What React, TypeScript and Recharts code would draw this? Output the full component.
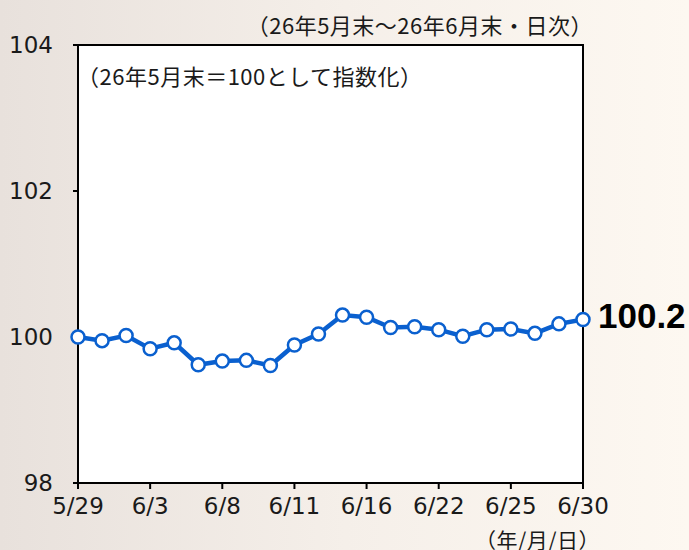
import React from 'react';
import { LineChart, Line, XAxis, YAxis, ReferenceArea } from 'recharts';

// trading days, 26/5/29 - 26/6/30
const dates = [
  '5/29', '6/1', '6/2', '6/3', '6/4', '6/5', '6/8', '6/9', '6/10', '6/11', '6/12',
  '6/15', '6/16', '6/17', '6/18', '6/22', '6/23', '6/24', '6/25', '6/26', '6/29', '6/30',
];
const indexValues = [
  100.0, 99.95, 100.02, 99.84, 99.92, 99.62, 99.67, 99.68, 99.61, 99.89, 100.04,
  100.3, 100.27, 100.13, 100.14, 100.1, 100.01, 100.1, 100.11, 100.05, 100.18, 100.24,
];
const yTicks = [98, 100, 102, 104];
const endLabel = '100.2';

const data = dates.map((d, i) => ({ date: d, value: indexValues[i] }));

const BLUE = '#0a60cf';
const JP = '"Noto Sans CJK JP", "Noto Sans", sans-serif';
const NUM = '"DejaVu Sans", sans-serif';

const renderEndLabel = (props: any) => {
  const { x, y, index } = props;
  if (index !== data.length - 1) return null;
  return (
    <text
      x={x + 15}
      y={y - 4}
      dominantBaseline="central"
      fontFamily='"Liberation Sans", Arial, sans-serif'
      fontWeight="bold"
      fontSize={35}
      fill="#000"
    >
      {endLabel}
    </text>
  );
};

const noteStyle: React.CSSProperties = {
  position: 'absolute',
  fontFamily: JP,
  fontSize: 22,
  lineHeight: '22px',
  letterSpacing: 0.5,
  color: '#1a1a1a',
  whiteSpace: 'nowrap',
};

const App: React.FC = () => {
  return (
    <div
      style={{
        position: 'absolute',
        left: 0,
        top: 0,
        width: 689,
        height: 550,
        overflow: 'hidden',
        background: 'linear-gradient(90deg, #e8e1dc 0%, #f5efe9 50%, #fdf8f1 100%)',
      }}
    >
      <LineChart
        width={689}
        height={550}
        data={data}
        margin={{ top: 45, right: 106, bottom: 0, left: 0 }}
      >
        <XAxis
          dataKey="date"
          interval={2}
          height={67}
          tickSize={6}
          tickMargin={9}
          axisLine={{ stroke: '#000', strokeWidth: 2 }}
          tickLine={{ stroke: '#000', strokeWidth: 2 }}
          tick={{ fontSize: 23, fill: '#1a1a1a', fontFamily: NUM }}
        />
        <YAxis
          domain={[98, 104]}
          ticks={yTicks}
          width={78}
          tickSize={5}
          tickMargin={20}
          axisLine={{ stroke: '#000', strokeWidth: 2 }}
          tickLine={{ stroke: '#000', strokeWidth: 2 }}
          tick={{ fontSize: 23, fill: '#1a1a1a', fontFamily: NUM }}
        />
        <ReferenceArea
          x1={dates[0]}
          x2={dates[dates.length - 1]}
          y1={98}
          y2={104}
          fill="#fff"
          fillOpacity={1}
          stroke="#000"
          strokeWidth={2}
        />
        <Line
          type="linear"
          dataKey="value"
          stroke={BLUE}
          strokeWidth={4.5}
          dot={{ r: 6.5, fill: '#fff', stroke: BLUE, strokeWidth: 2.5 }}
          label={renderEndLabel}
          isAnimationActive={false}
        />
      </LineChart>
      <div style={{ ...noteStyle, right: 96, top: 13 }}>
        （26年5月末～26年6月末・日次）
      </div>
      <div style={{ ...noteStyle, left: 77, top: 64 }}>
        （26年5月末＝100として指数化）
      </div>
      <div style={{ ...noteStyle, left: 475, top: 529, fontSize: 21, lineHeight: '21px' }}>
        （年/月/日）
      </div>
    </div>
  );
};

export default App;
